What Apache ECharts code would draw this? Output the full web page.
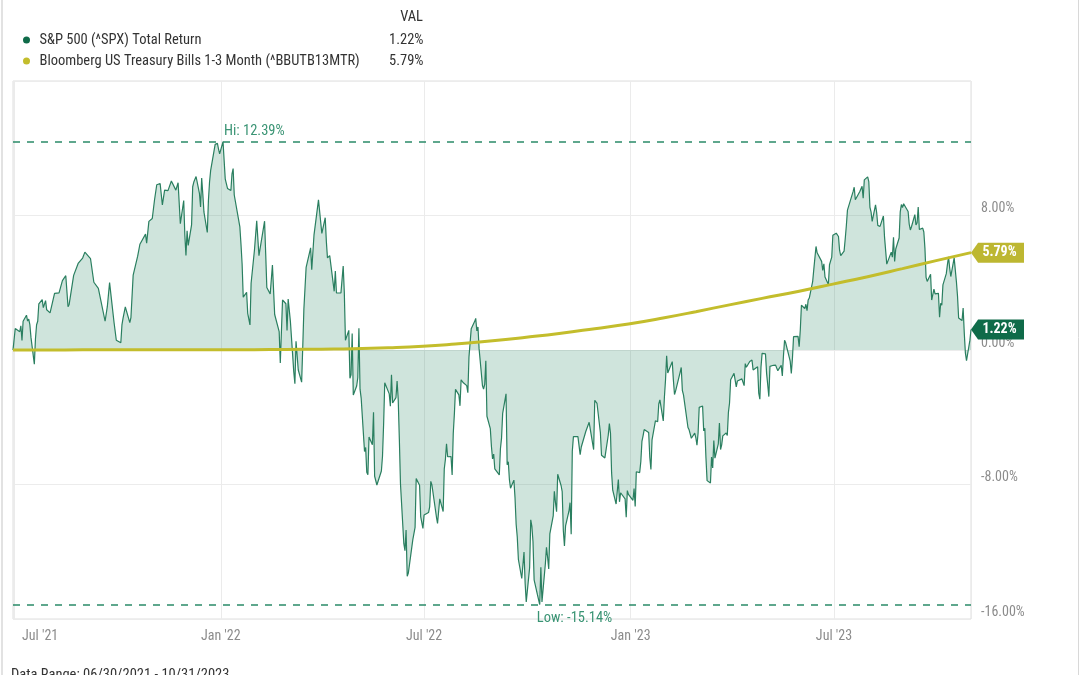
<!DOCTYPE html>
<html><head><meta charset="utf-8">
<script src="https://cdn.jsdelivr.net/npm/echarts@6/dist/echarts.min.js"></script>
<style>html,body{margin:0;padding:0;background:#fff}#c{width:1080px;height:675px}</style>
</head><body><div id="c"></div>
<script>
const seriesNames = ['S&P 500 (^SPX) Total Return', 'Bloomberg US Treasury Bills 1-3 Month (^BBUTB13MTR)'];
const spxDates = [
'2021-06-30',
'2021-07-02','2021-07-06','2021-07-07','2021-07-08','2021-07-09','2021-07-12','2021-07-13','2021-07-14','2021-07-15','2021-07-16','2021-07-19','2021-07-20','2021-07-21','2021-07-22','2021-07-23','2021-07-26','2021-07-27','2021-07-28','2021-07-29','2021-07-30',
'2021-08-02','2021-08-06','2021-08-10','2021-08-13','2021-08-16','2021-08-18','2021-08-19','2021-08-23','2021-08-27','2021-08-31',
'2021-09-02','2021-09-07','2021-09-10','2021-09-14','2021-09-20','2021-09-21','2021-09-22','2021-09-24','2021-09-28','2021-09-30',
'2021-10-04','2021-10-05','2021-10-06','2021-10-08','2021-10-12','2021-10-13','2021-10-15','2021-10-19','2021-10-21','2021-10-22','2021-10-26','2021-10-27','2021-10-29',
'2021-11-01','2021-11-03','2021-11-05','2021-11-08','2021-11-10','2021-11-12','2021-11-15','2021-11-18','2021-11-22','2021-11-24','2021-11-26','2021-11-29','2021-11-30',
'2021-12-01','2021-12-02','2021-12-03','2021-12-06','2021-12-07','2021-12-08','2021-12-10','2021-12-13','2021-12-14','2021-12-15','2021-12-16','2021-12-17','2021-12-20','2021-12-21','2021-12-22','2021-12-23','2021-12-27','2021-12-28','2021-12-29','2021-12-30','2021-12-31',
'2022-01-03','2022-01-04','2022-01-05','2022-01-06','2022-01-07','2022-01-10','2022-01-11','2022-01-12','2022-01-13','2022-01-14','2022-01-18','2022-01-19','2022-01-20','2022-01-21','2022-01-24','2022-01-25','2022-01-27','2022-01-28','2022-01-31',
'2022-02-02','2022-02-04','2022-02-09','2022-02-10','2022-02-11','2022-02-14','2022-02-16','2022-02-18','2022-02-22','2022-02-23','2022-02-25','2022-02-28',
'2022-03-01','2022-03-02','2022-03-04','2022-03-07','2022-03-08','2022-03-09','2022-03-11','2022-03-14','2022-03-15','2022-03-16','2022-03-18','2022-03-22','2022-03-23','2022-03-25','2022-03-29',
'2022-04-01','2022-04-04','2022-04-05','2022-04-06','2022-04-08','2022-04-12','2022-04-13','2022-04-14','2022-04-18','2022-04-20','2022-04-21','2022-04-22','2022-04-25','2022-04-26','2022-04-27','2022-04-28','2022-04-29',
'2022-05-02','2022-05-03','2022-05-04','2022-05-05','2022-05-06','2022-05-09','2022-05-10','2022-05-11','2022-05-12','2022-05-13','2022-05-16','2022-05-17','2022-05-18','2022-05-20','2022-05-24','2022-05-25','2022-05-26','2022-05-27','2022-05-31',
'2022-06-01','2022-06-02','2022-06-03','2022-06-06','2022-06-07','2022-06-08','2022-06-09','2022-06-10','2022-06-13','2022-06-14','2022-06-15','2022-06-16','2022-06-17','2022-06-21','2022-06-22','2022-06-23','2022-06-24','2022-06-27','2022-06-28','2022-06-29','2022-06-30',
'2022-07-01','2022-07-05','2022-07-06','2022-07-07','2022-07-08','2022-07-12','2022-07-13','2022-07-14','2022-07-15','2022-07-18','2022-07-19','2022-07-20','2022-07-21','2022-07-22','2022-07-25','2022-07-26','2022-07-27','2022-07-28','2022-07-29',
'2022-08-01','2022-08-02','2022-08-03','2022-08-05','2022-08-08','2022-08-09','2022-08-10','2022-08-11','2022-08-12','2022-08-15','2022-08-16','2022-08-17','2022-08-18','2022-08-19','2022-08-22','2022-08-23','2022-08-24','2022-08-25','2022-08-26','2022-08-29','2022-08-30','2022-08-31',
'2022-09-01','2022-09-02','2022-09-06','2022-09-07','2022-09-08','2022-09-09','2022-09-12','2022-09-13','2022-09-14','2022-09-15','2022-09-16','2022-09-19','2022-09-20','2022-09-21','2022-09-22','2022-09-23','2022-09-26','2022-09-27','2022-09-28','2022-09-29','2022-09-30',
'2022-10-03','2022-10-04','2022-10-05','2022-10-06','2022-10-07','2022-10-10','2022-10-11','2022-10-12','2022-10-13','2022-10-14','2022-10-17','2022-10-18','2022-10-19','2022-10-20','2022-10-21','2022-10-24','2022-10-25','2022-10-26','2022-10-27','2022-10-28','2022-10-31',
'2022-11-01','2022-11-02','2022-11-03','2022-11-04','2022-11-07','2022-11-08','2022-11-09','2022-11-10','2022-11-11','2022-11-15','2022-11-17','2022-11-18','2022-11-22','2022-11-25','2022-11-29','2022-11-30',
'2022-12-02','2022-12-05','2022-12-06','2022-12-09','2022-12-12','2022-12-13','2022-12-14','2022-12-15','2022-12-16','2022-12-19','2022-12-20','2022-12-21','2022-12-22','2022-12-23','2022-12-27','2022-12-28','2022-12-29','2022-12-30',
'2023-01-03','2023-01-04','2023-01-05','2023-01-06','2023-01-09','2023-01-10','2023-01-11','2023-01-12','2023-01-13','2023-01-17','2023-01-18','2023-01-19','2023-01-20','2023-01-23','2023-01-25','2023-01-26','2023-01-27','2023-01-30','2023-01-31',
'2023-02-01','2023-02-02','2023-02-03','2023-02-07','2023-02-08','2023-02-09','2023-02-10','2023-02-14','2023-02-15','2023-02-16','2023-02-17','2023-02-21','2023-02-22','2023-02-24','2023-02-27','2023-02-28',
'2023-03-01','2023-03-02','2023-03-03','2023-03-06','2023-03-07','2023-03-08','2023-03-09','2023-03-10','2023-03-13','2023-03-14','2023-03-15','2023-03-16','2023-03-17','2023-03-20','2023-03-21','2023-03-22','2023-03-23','2023-03-24','2023-03-27','2023-03-28','2023-03-29','2023-03-30','2023-03-31',
'2023-04-03','2023-04-05','2023-04-06','2023-04-10','2023-04-12','2023-04-13','2023-04-14','2023-04-17','2023-04-18','2023-04-19','2023-04-20','2023-04-24','2023-04-25','2023-04-26','2023-04-27','2023-04-28',
'2023-05-01','2023-05-02','2023-05-03','2023-05-04','2023-05-05','2023-05-08','2023-05-10','2023-05-11','2023-05-12','2023-05-15','2023-05-16','2023-05-17','2023-05-18','2023-05-19','2023-05-23','2023-05-24','2023-05-25','2023-05-26','2023-05-30','2023-05-31',
'2023-06-01','2023-06-02','2023-06-05','2023-06-06','2023-06-07','2023-06-08','2023-06-09','2023-06-12','2023-06-13','2023-06-14','2023-06-15','2023-06-16','2023-06-20','2023-06-21','2023-06-22','2023-06-23','2023-06-26','2023-06-27','2023-06-28','2023-06-29','2023-06-30',
'2023-07-03','2023-07-05','2023-07-06','2023-07-07','2023-07-10','2023-07-11','2023-07-12','2023-07-13','2023-07-14','2023-07-18','2023-07-19','2023-07-20','2023-07-21','2023-07-24','2023-07-26','2023-07-27','2023-07-28','2023-07-31',
'2023-08-01','2023-08-02','2023-08-03','2023-08-04','2023-08-07','2023-08-08','2023-08-09','2023-08-10','2023-08-11','2023-08-14','2023-08-15','2023-08-16','2023-08-17','2023-08-18','2023-08-21','2023-08-22','2023-08-23','2023-08-24','2023-08-25','2023-08-28','2023-08-29','2023-08-30','2023-08-31',
'2023-09-01','2023-09-05','2023-09-06','2023-09-07','2023-09-08','2023-09-11','2023-09-12','2023-09-13','2023-09-14','2023-09-15','2023-09-18','2023-09-19','2023-09-20','2023-09-21','2023-09-22','2023-09-25','2023-09-26','2023-09-27','2023-09-28','2023-09-29',
'2023-10-02','2023-10-03','2023-10-04','2023-10-05','2023-10-06','2023-10-09','2023-10-10','2023-10-11','2023-10-12','2023-10-13','2023-10-16','2023-10-17','2023-10-18','2023-10-19','2023-10-20','2023-10-23','2023-10-24','2023-10-25','2023-10-26','2023-10-27','2023-10-30','2023-10-31'
];
const spxValues = [
0.00,
1.28,1.09,1.44,0.57,1.71,2.07,1.72,1.84,1.51,0.75,-0.84,0.67,1.50,1.71,2.75,3.00,2.52,2.50,2.94,2.39,
2.21,3.37,3.40,4.13,4.42,2.57,2.71,4.44,5.15,5.47,
5.82,5.44,4.03,3.67,1.71,1.63,2.59,4.01,1.62,0.58,
0.43,1.49,1.90,2.57,1.63,1.93,4.46,5.58,6.29,6.21,6.89,6.36,7.65,
7.82,8.92,9.83,9.90,8.63,9.51,9.48,10.05,9.51,9.95,7.51,8.89,6.84,
5.62,7.09,6.22,7.44,9.71,9.99,10.32,9.32,8.51,10.23,9.27,8.21,6.99,8.89,9.99,10.69,12.23,12.12,12.29,11.95,11.67,
12.39,12.32,10.16,10.05,9.61,9.49,10.48,10.79,9.22,9.31,7.32,6.29,5.12,3.14,3.43,2.18,1.49,3.97,5.95,
7.68,5.61,7.66,5.72,3.72,3.33,5.06,2.11,1.09,-0.77,2.98,2.75,
1.16,3.03,1.70,-1.30,-2.00,0.52,-1.19,-1.91,0.19,2.44,4.92,6.08,4.78,6.83,8.93,
6.93,7.87,6.46,5.48,5.61,3.49,4.69,3.39,3.40,4.99,3.43,0.58,1.17,-1.68,-1.47,0.98,-2.68,
-2.14,-1.65,1.30,-2.33,-2.86,-6.04,-5.80,-7.27,-7.42,-5.17,-5.63,-3.70,-7.51,-8.03,-7.20,-6.32,-4.40,-1.95,-2.61,
-3.34,-1.48,-3.15,-2.83,-1.84,-2.96,-5.29,-7.96,-11.52,-11.94,-10.71,-13.46,-13.27,-11.28,-11.39,-10.55,-7.65,-8.04,-9.91,-9.98,-10.61,
-9.82,-9.67,-9.33,-7.81,-8.03,-9.92,-10.32,-10.43,-8.85,-9.61,-7.07,-6.51,-5.58,-6.35,-6.34,-7.43,-4.97,-3.80,-2.34,
-2.67,-3.32,-1.77,-1.95,-2.12,-2.54,-0.42,-0.48,1.27,1.69,1.88,1.14,1.37,0.08,-2.11,-2.33,-2.05,-0.64,-3.94,-4.68,-5.74,-6.48,
-6.19,-7.07,-7.43,-5.87,-5.24,-3.77,-2.61,-6.82,-6.65,-7.72,-8.22,-7.74,-8.79,-10.36,-11.13,-12.46,-13.59,-13.53,-12.02,-13.87,-14.98,
-12.95,-10.10,-10.49,-11.41,-13.67,-14.57,-14.86,-15.14,-12.93,-14.99,-12.73,-11.74,-12.33,-13.02,-10.94,-9.87,-8.40,-9.07,-9.62,-7.39,-8.06,
-8.43,-10.72,-11.66,-10.46,-9.59,-9.08,-10.96,-6.02,-5.15,-5.15,-6.22,-5.77,-4.85,-4.30,-5.92,-2.99,
-3.18,-4.91,-6.26,-6.42,-5.07,-4.38,-4.96,-7.31,-8.34,-9.16,-9.05,-7.70,-9.03,-8.49,-8.85,-9.94,-8.36,-8.59,
-8.94,-8.24,-9.31,-7.24,-7.29,-6.64,-5.44,-5.11,-4.73,-4.91,-6.38,-7.10,-5.34,-4.21,-4.27,-3.21,-2.97,-4.22,-2.81,
-1.78,-0.34,-1.37,-0.69,-1.78,-2.65,-2.43,-1.33,-1.04,-2.41,-2.67,-4.61,-4.75,-5.25,-4.94,-5.22,
-5.66,-4.94,-3.41,-3.33,-4.81,-4.66,-6.41,-7.77,-7.91,-6.37,-7.02,-5.39,-6.43,-5.58,-4.35,-5.92,-5.64,-5.11,-4.94,-5.08,-3.71,-3.15,-1.77,
-1.39,-2.19,-1.84,-1.72,-2.12,-0.81,-1.03,-0.68,-0.60,-0.60,-1.19,-1.00,-2.56,-2.93,-1.02,-0.20,
-0.23,-1.39,-2.06,-2.77,-0.97,-0.91,-0.90,-1.07,-1.23,-0.91,-1.54,-0.36,0.58,0.43,-0.66,-1.39,-0.51,0.79,0.81,0.19,
1.19,2.66,2.47,2.72,2.34,2.97,3.09,4.06,4.78,4.88,6.16,5.78,5.27,4.74,5.13,4.34,3.89,5.07,5.04,5.52,6.82,
6.95,6.75,5.92,5.62,5.88,6.60,7.39,8.32,8.21,9.42,9.68,8.94,8.99,9.43,9.74,9.03,10.12,10.30,
10.02,8.49,8.22,7.65,8.63,8.18,7.41,7.45,7.35,7.97,6.73,5.92,5.11,5.11,5.82,5.52,6.70,5.26,6.01,6.66,8.22,8.65,8.47,
8.70,8.24,7.48,7.14,7.33,8.05,7.44,7.57,8.50,7.17,7.25,7.02,6.03,4.32,4.08,4.50,2.97,3.00,3.62,3.34,
3.37,1.95,2.78,2.66,3.87,4.54,5.08,5.54,4.88,4.37,5.48,5.47,4.07,3.20,1.90,1.75,2.49,1.02,-0.17,-0.64,0.57,1.22
];
const tbillDates = ['2021-06-30','2021-07-30','2021-08-31','2021-09-30','2021-10-29','2021-11-30','2021-12-31','2022-01-31','2022-02-28','2022-03-31','2022-04-29','2022-05-31','2022-06-30','2022-07-29','2022-08-31','2022-09-30','2022-10-31','2022-11-30','2022-12-30','2023-01-31','2023-02-28','2023-03-31','2023-04-28','2023-05-31','2023-06-30','2023-07-31','2023-08-31','2023-09-29','2023-10-31'];
const tbillValues = [0.00,0.00,0.01,0.01,0.01,0.02,0.02,0.02,0.03,0.05,0.07,0.13,0.22,0.36,0.55,0.76,1.00,1.27,1.55,1.92,2.28,2.70,3.07,3.50,3.92,4.36,4.84,5.30,5.79];
const yTicks = [-16, -8, 0, 8, 16];
const monthNames = ['Jan','Feb','Mar','Apr','May','Jun','Jul','Aug','Sep','Oct','Nov','Dec'];
const dateRangeText = 'Data Range: 06/30/2021 - 10/31/2023';
const valHeader = 'VAL';

const FONT = '"Liberation Sans Narrow", "Roboto Condensed", Roboto, sans-serif';
const GREEN = '#2a7f60';
const GREEN_DARK = '#0f6b49';
const YELLOW = '#c3bd2c';
const fmtPct = v => v.toFixed(2) + '%';
const last = a => a[a.length - 1];

const spxData = spxDates.map((d, i) => [d, spxValues[i]]);
const tbillData = tbillDates.map((d, i) => [d, tbillValues[i]]);
const lastVals = {};
lastVals[seriesNames[0]] = fmtPct(last(spxValues));
lastVals[seriesNames[1]] = fmtPct(last(tbillValues));

const tagPath = 'path://M0,10 L8,0 L60,0 L60,20 L8,20 Z';
const firstLabelLimit = new Date(spxDates[0]).getTime() + 40 * 86400000;

const chart = echarts.init(document.getElementById('c'), null, {renderer: 'canvas'});
chart.setOption({
  animation: false,
  textStyle: {fontFamily: FONT},
  color: [GREEN_DARK, YELLOW],
  grid: {left: 13, right: 109, top: 81, bottom: 56, containLabel: false, outerBoundsMode: 'none',
    show: true, borderColor: '#dedede', borderWidth: 1, backgroundColor: 'transparent'},
  legend: {
    orient: 'vertical', left: 18, top: 27, itemGap: 5, icon: 'circle',
    itemWidth: 12, itemHeight: 7, selectedMode: false,
    data: seriesNames,
    formatter: name => '{n|' + name + '}{v|' + lastVals[name] + '}',
    textStyle: {
      fontFamily: FONT, fontSize: 14.5, color: '#333', lineHeight: 16,
      rich: {
        n: {fontFamily: FONT, fontSize: 14.5, color: '#333', width: 351, padding: [0, 0, 0, 2]},
        v: {fontFamily: FONT, fontSize: 14.5, color: '#333', width: 33, align: 'right'}
      }
    }
  },
  graphic: [
    {type: 'text', right: 1080 - 423, top: 10, style: {text: valHeader, font: '14.5px ' + FONT, fill: '#333'}},
    {type: 'text', left: 11, top: 668, style: {text: dateRangeText, font: '14.5px ' + FONT, fill: '#333'}},
    {type: 'line', shape: {x1: 2, y1: 0, x2: 2, y2: 675}, style: {stroke: '#d8d8d8', lineWidth: 1.5}},
    {type: 'line', shape: {x1: 1078.5, y1: 0, x2: 1078.5, y2: 675}, style: {stroke: '#d8d8d8', lineWidth: 1}}
  ],
  xAxis: {
    type: 'time',
    min: spxDates[0], max: last(spxDates),
    splitNumber: 4,
    axisLine: {show: false}, axisTick: {show: false},
    splitLine: {show: true, lineStyle: {color: '#ebebeb', width: 1}},
    axisLabel: {
      color: '#8c8c8c', fontSize: 14, fontFamily: FONT, margin: 10,
      showMinLabel: false, showMaxLabel: false, hideOverlap: false,
      formatter: function (val) {
        const d = new Date(val);
        const s = monthNames[d.getMonth()] + " '" + String(d.getFullYear()).slice(2);
        if (val <= firstLabelLimit) return '{f|' + s + '}';
        return s;
      },
      rich: {f: {fontFamily: FONT, fontSize: 14, color: '#8c8c8c', padding: [0, 0, 0, 52]}}
    }
  },
  yAxis: {
    type: 'value', position: 'right', min: yTicks[0], max: last(yTicks), interval: 8,
    axisLine: {show: false}, axisTick: {show: false},
    splitLine: {show: true, lineStyle: {color: '#ececec', width: 1}},
    axisLabel: {
      color: '#8c8c8c', fontSize: 14, fontFamily: FONT, margin: 10, verticalAlign: 'bottom',
      formatter: v => (v === last(yTicks) ? '' : fmtPct(v))
    }
  },
  series: [
    {
      name: seriesNames[0], type: 'line', data: spxData, showSymbol: false, symbol: 'none',
      lineStyle: {color: GREEN, width: 1.2},
      itemStyle: {color: GREEN_DARK},
      areaStyle: {color: 'rgba(42,135,100,0.32)'},
      z: 2,
      markLine: {
        symbol: 'none', silent: true, animation: false,
        lineStyle: {color: '#2a8a68', width: 1.6, type: [7, 7]},
        label: {show: false},
        data: [{type: 'max'}, {type: 'min'}]
      },
      markPoint: {
        silent: true, animation: false,
        data: [
          {type: 'max', symbol: 'circle', symbolSize: 0,
            label: {show: true, position: [1, -18], color: '#3a9474', fontSize: 14.5, fontFamily: FONT,
              formatter: p => 'Hi: ' + fmtPct(p.value)}},
          {type: 'min', symbol: 'circle', symbolSize: 0,
            label: {show: true, position: [-3, 6], color: '#3a9474', fontSize: 14.5, fontFamily: FONT,
              formatter: p => 'Low: ' + fmtPct(p.value)}},
          {coord: [last(spxDates), last(spxValues)], value: last(spxValues), symbol: tagPath,
            symbolSize: [53, 20], symbolKeepAspect: false, symbolOffset: [26.5, 0],
            itemStyle: {color: GREEN_DARK},
            label: {show: true, position: 'inside', color: '#fff', fontWeight: 'bold', fontSize: 14, fontFamily: FONT,
              offset: [2, 0], formatter: p => fmtPct(p.value)}}
        ]
      }
    },
    {
      name: seriesNames[1], type: 'line', data: tbillData, showSymbol: false, symbol: 'none', smooth: true,
      lineStyle: {color: YELLOW, width: 3},
      itemStyle: {color: YELLOW},
      z: 3,
      markPoint: {
        silent: true, animation: false,
        data: [
          {coord: [last(tbillDates), last(tbillValues)], value: last(tbillValues), symbol: tagPath,
            symbolSize: [53, 20], symbolKeepAspect: false, symbolOffset: [26.5, 0],
            itemStyle: {color: '#bdb731'},
            label: {show: true, position: 'inside', color: '#fff', fontWeight: 'bold', fontSize: 14, fontFamily: FONT,
              offset: [2, 0], formatter: p => fmtPct(p.value)}}
        ]
      }
    }
  ]
});
</script></body></html>
